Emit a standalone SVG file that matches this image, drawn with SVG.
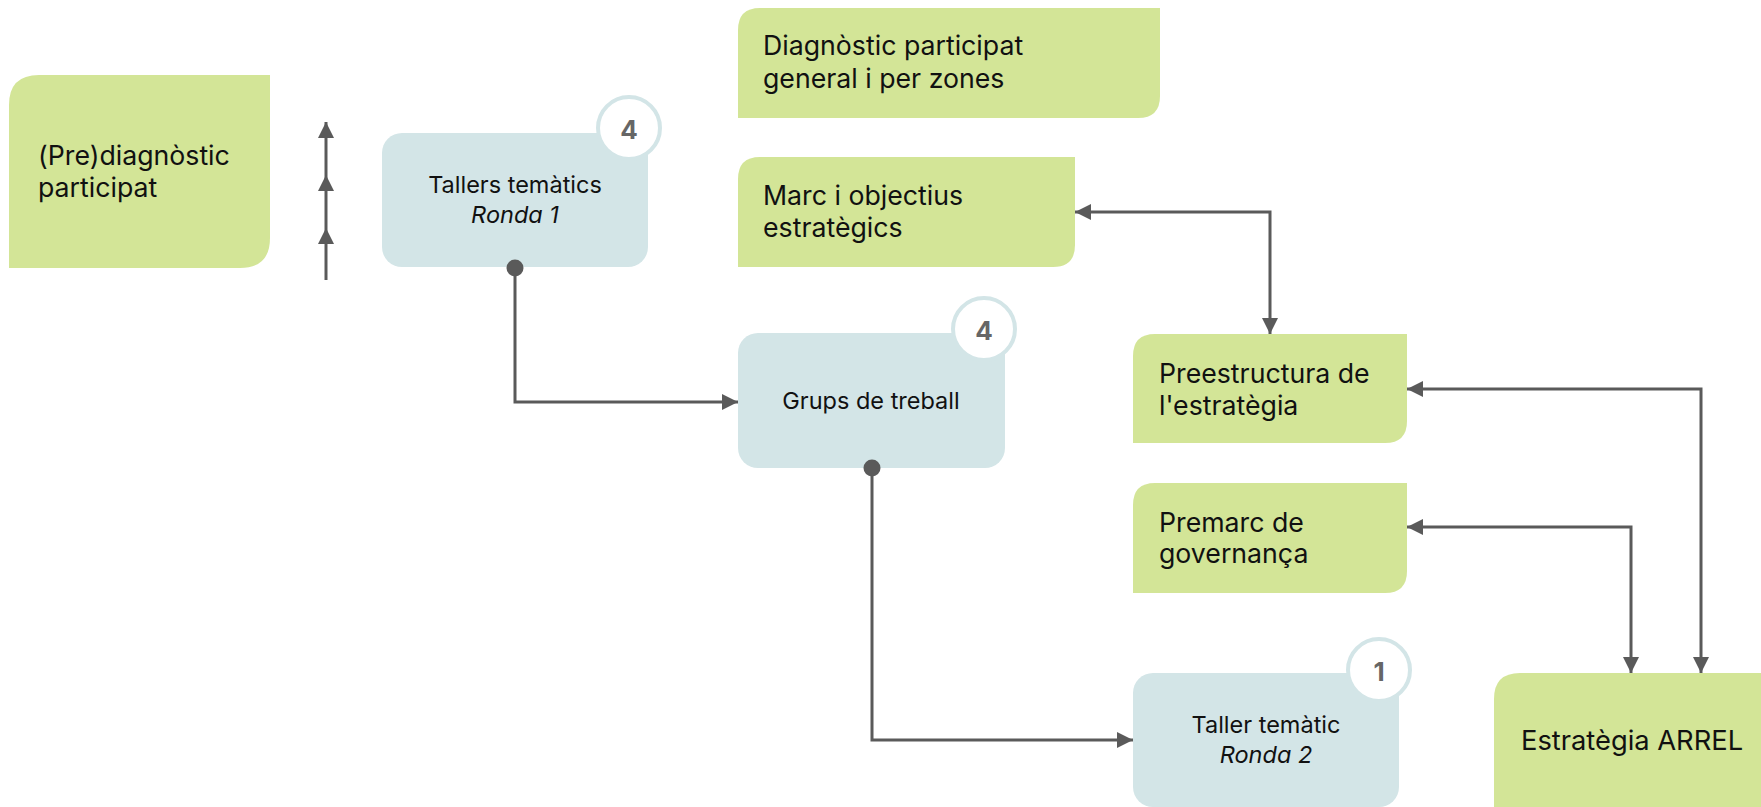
<svg xmlns="http://www.w3.org/2000/svg" width="1761" height="807" viewBox="0 0 1761 807">
<defs>
<style>
.g{fill:#d3e597}
.b{fill:#d3e5e7}
.t{font-family:Inter,"Noto Sans","Liberation Sans",sans-serif;fill:#111}
.tl{font-size:26.7px}
.ts{font-size:23.5px}
.it{font-style:italic}
.badge{fill:#fff;stroke:#d3e5e7;stroke-width:4}
.num{font-family:Inter,"Noto Sans","Liberation Sans",sans-serif;font-size:26px;font-weight:700;fill:#666;text-anchor:middle}
.c{fill:none;stroke:#5a5a5a;stroke-width:3}
.dot{fill:#5a5a5a}
</style>
<marker id="ah" markerUnits="userSpaceOnUse" markerWidth="16" markerHeight="16" viewBox="0 0 16 16" refX="16" refY="8" orient="auto-start-reverse">
<path d="M0,0 L16,8 L0,16 z" fill="#5a5a5a"/>
</marker>
</defs>

<g id="prediagnostic">
<path class="g" d="M9,105 Q9,75 39,75 H270 V238 Q270,268 240,268 H9 Z"/>
<text class="t tl" x="38" y="165">(Pre)diagnòstic</text>
<text class="t tl" x="38" y="197">participat</text>
</g>

<g id="tallers1">
<rect class="b" x="382" y="133" width="266" height="134" rx="20"/>
<circle class="badge" cx="629" cy="128" r="31"/>
<text class="num" x="629" y="139">4</text>
<text class="t ts" x="515" y="193" text-anchor="middle">Tallers temàtics</text>
<text class="t ts it" x="515" y="223" text-anchor="middle">Ronda 1</text>
</g>

<g id="diagnostic">
<path class="g" d="M738,30 Q738,8 760,8 H1160 V96 Q1160,118 1138,118 H738 Z"/>
<text class="t tl" x="763" y="55">Diagnòstic participat</text>
<text class="t tl" x="763" y="88">general i per zones</text>
</g>

<g id="marc">
<path class="g" d="M738,179 Q738,157 760,157 H1075 V245 Q1075,267 1053,267 H738 Z"/>
<text class="t tl" x="763" y="205">Marc i objectius</text>
<text class="t tl" x="763" y="237">estratègics</text>
</g>

<g id="grups">
<rect class="b" x="738" y="333" width="267" height="135" rx="20"/>
<circle class="badge" cx="984" cy="329" r="31"/>
<text class="num" x="984" y="340">4</text>
<text class="t ts" x="871" y="409" text-anchor="middle">Grups de treball</text>
</g>

<g id="preestructura">
<path class="g" d="M1133,356 Q1133,334 1155,334 H1407 V421 Q1407,443 1385,443 H1133 Z"/>
<text class="t tl" x="1159" y="383">Preestructura de</text>
<text class="t tl" x="1159" y="415">l'estratègia</text>
</g>

<g id="premarc">
<path class="g" d="M1133,505 Q1133,483 1155,483 H1407 V571 Q1407,593 1385,593 H1133 Z"/>
<text class="t tl" x="1159" y="532">Premarc de</text>
<text class="t tl" x="1159" y="563">governança</text>
</g>

<g id="taller2">
<rect class="b" x="1133" y="673" width="266" height="134" rx="20"/>
<circle class="badge" cx="1379" cy="670" r="31"/>
<text class="num" x="1379" y="681">1</text>
<text class="t ts" x="1266" y="733" text-anchor="middle">Taller temàtic</text>
<text class="t ts it" x="1266" y="763" text-anchor="middle">Ronda 2</text>
</g>

<g id="estrategia">
<path class="g" d="M1494,699 Q1494,673 1520,673 H1770 V816 H1494 Z"/>
<text class="t" x="1521" y="750" font-size="27.3">Estratègia ARREL</text>
</g>

<g id="connectors">
<path class="c" d="M326,280 V228 V175 V122" marker-mid="url(#ah)" marker-end="url(#ah)"/>
<path class="c" d="M515,268 V402 H738" marker-end="url(#ah)"/>
<path class="c" d="M872,468 V740 H1133" marker-end="url(#ah)"/>
<path class="c" d="M1075,212 H1270 V334" marker-start="url(#ah)" marker-end="url(#ah)"/>
<path class="c" d="M1407,389 H1701 V673" marker-start="url(#ah)" marker-end="url(#ah)"/>
<path class="c" d="M1407,527 H1631 V673" marker-start="url(#ah)" marker-end="url(#ah)"/>
<circle class="dot" cx="515" cy="268" r="8.5"/>
<circle class="dot" cx="872" cy="468" r="8.5"/>
</g>
</svg>
